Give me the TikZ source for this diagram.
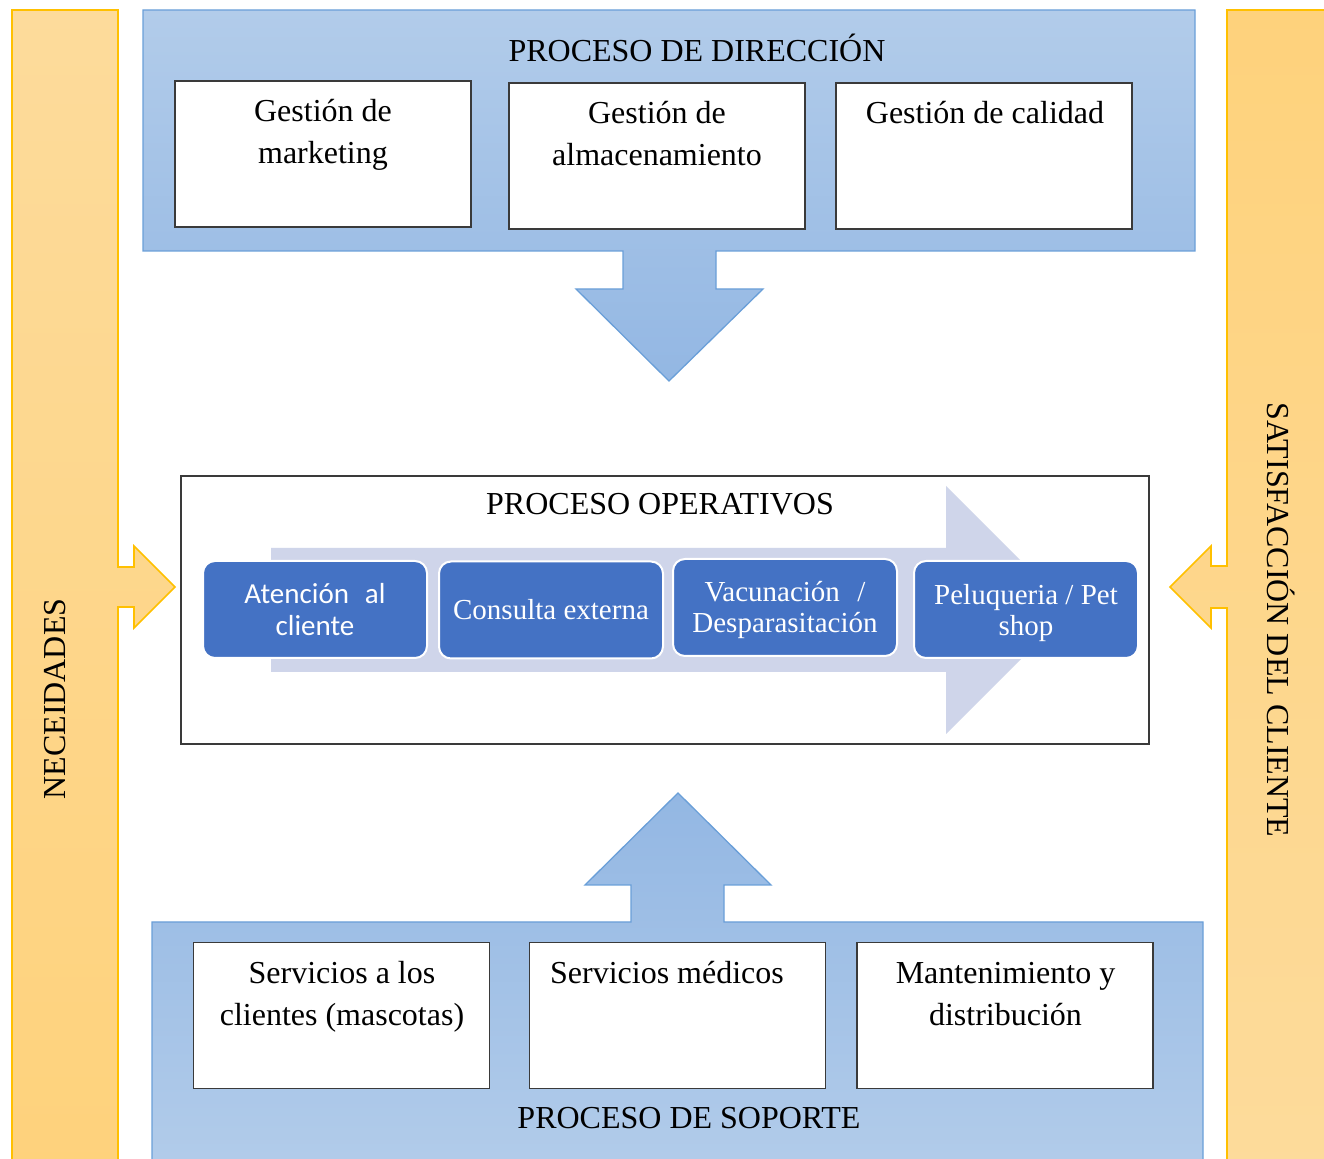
\documentclass[tikz,border=0pt]{standalone}
\usepackage{fontspec}
\setmainfont{Liberation Serif}
\newfontfamily\stepsans{Carlito}
\definecolor{barFillA}{HTML}{FDDB9B}
\definecolor{barFillB}{HTML}{FED27C}
\definecolor{barEdge}{HTML}{FFC000}
\definecolor{panelA}{HTML}{B2CCEA}
\definecolor{panelB}{HTML}{93B7E3}
\definecolor{panelEdge}{HTML}{6A9FD8}
\definecolor{boxEdge}{HTML}{3A3A3A}
\definecolor{flowBack}{HTML}{CFD5EA}
\definecolor{stepBlue}{HTML}{4472C4}
\begin{document}
\begin{tikzpicture}[x=0.5pt,y=-0.5pt,
  panel/.style={draw=panelEdge, line width=0.65pt},
  sidebar/.style={draw=barEdge, line width=0.8pt},
  whitebox/.style={draw=boxEdge, fill=white, line width=0.8pt,
    minimum width=148pt, minimum height=73pt, inner sep=0pt},
  % multi-line nodes sit on the baseline of their last line
  boxtext/.style={font=\fontsize{16}{21}\selectfont, align=center, anchor=base, inner sep=0pt},
  titletext/.style={font=\fontsize{16}{19}\selectfont, anchor=base, inner sep=0pt},
  stepbox/.style={draw=white, line width=1pt, fill=stepBlue, rounded corners=6pt,
    minimum width=112pt, minimum height=48.5pt, inner sep=0pt},
  steptext/.style={text=white, align=center, inner sep=0pt,
    font=\fontsize{14.5}{15.5}\selectfont},
]
\useasboundingbox (0,0) rectangle (1324,1159);
\clip (0,0) rectangle (1324,1159);

% side bars with their inward arrows
\shade[sidebar, top color=barFillA, bottom color=barFillB]
  (12,10) -- (118,10) -- (118,567) -- (134,567) -- (134,546) -- (175,587)
  -- (134,628) -- (134,607) -- (118,607) -- (118,1170) -- (12,1170) -- cycle;
\shade[sidebar, top color=barFillB, bottom color=barFillA]
  (1227,10) -- (1334,10) -- (1334,1170) -- (1227,1170) -- (1227,608) -- (1211,608)
  -- (1211,628) -- (1170,587) -- (1211,546) -- (1211,566) -- (1227,566) -- cycle;
\node[font=\fontsize{16}{19}\selectfont, rotate=90] (needs) at (55,699) {NECEIDADES};
\node[font=\fontsize{16}{19}\selectfont, rotate=-90] (satisf) at (1281,620) {SATISFACCIÓN DEL CLIENTE};

% management panel with its downward arrow
\shade[panel, top color=panelA, bottom color=panelB]
  (143,10) -- (1195,10) -- (1195,251) -- (716,251) -- (716,289) -- (763,289)
  -- (669,381) -- (576,289) -- (623,289) -- (623,251) -- (143,251) -- cycle;
\node[titletext] (dirtitle) at (697,61.5) {PROCESO DE DIRECCIÓN};
\node[whitebox] (m1) at (323,154) {};
\node[whitebox] (m2) at (657,156) {};
\node[whitebox] (m3) at (984,156) {};
\node[boxtext] (m1t) at (323,163.5) {Gestión de\\marketing};
\node[boxtext] (m2t) at (657,165.5) {Gestión de\\almacenamiento};
\node[boxtext] (m3t) at (985,123.5) {Gestión de calidad};

% support panel with its upward arrow
\shade[panel, top color=panelB, bottom color=panelA]
  (678,793) -- (771,885) -- (724,885) -- (724,922) -- (1203,922) -- (1203,1170)
  -- (152,1170) -- (152,922) -- (631,922) -- (631,885) -- (585,885) -- cycle;
\node[whitebox] (s1) at (341.5,1015.5) {};
\node[whitebox] (s2) at (677.5,1015.5) {};
\node[whitebox] (s3) at (1005,1015.5) {};
\node[boxtext] (s1t) at (342,1025.5) {Servicios a los\\clientes (mascotas)};
\node[boxtext] (s2t) at (667,983.5) {Servicios médicos};
\node[boxtext] (s3t) at (1005.5,1025.5) {Mantenimiento y\\distribución};
\node[titletext] (soptitle) at (689,1128.5) {PROCESO DE SOPORTE};

% operational process
\node[draw=boxEdge, fill=white, line width=0.8pt, minimum width=484pt, minimum height=134pt,
  inner sep=0pt] (ops) at (665,610) {};
\node[titletext] (optitle) at (660,514.5) {PROCESO OPERATIVOS};
\fill[flowBack] (271,548) -- (946,548) -- (946,486) -- (1070,610) -- (946,734)
  -- (946,672) -- (271,672) -- cycle;
\node[stepbox] (p1) at (315,609.5) {};
\node[stepbox] (p2) at (551,610) {};
\node[stepbox] (p3) at (785,607.5) {};
\node[stepbox] (p4) at (1026,609.5) {};
\node[steptext, font=\stepsans\fontsize{14.5}{16}\selectfont] (p1t) at (p1.center)
  {Atención\hspace{0.55em}al\\cliente};
\node[steptext] (p2t) at (p2.center) {Consulta externa};
\node[steptext] (p3t) at ([yshift=-1.5pt]p3.center) {Vacunación\hspace{0.6em}/\\Desparasitación};
\node[steptext] (p4t) at ([yshift=-2pt]p4.center) {Peluqueria / Pet\\shop};
\end{tikzpicture}
\end{document}
